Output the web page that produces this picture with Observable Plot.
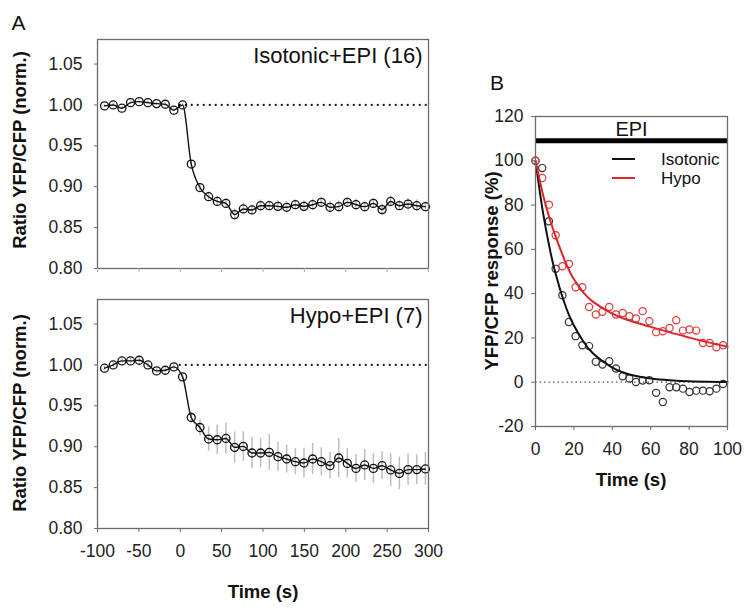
<!DOCTYPE html>
<html><head><meta charset="utf-8">
<script src="https://cdn.jsdelivr.net/npm/d3@7"></script>
<script src="https://cdn.jsdelivr.net/npm/@observablehq/plot@0.6"></script>
<style>
html,body{margin:0;padding:0;background:#fff;}
#root{position:relative;width:751px;height:612px;overflow:hidden;font-family:"Liberation Sans",Arial,sans-serif;color:#111;}
.box{position:absolute;}
.t{position:absolute;white-space:nowrap;line-height:1;transform:translate(-50%,-50%);}
.rot{transform:translate(-50%,-50%) rotate(-90deg);}
.b{font-weight:bold;}
.sw{position:absolute;height:2px;}
</style></head><body><div id="root"></div>
<script>
// ---------- Panel A data ----------
const timeA = [-91.5, -81, -70.5, -60.1, -49.6, -39.1, -28.6, -18.1, -7.7, 2.8,
  13.3, 23.8, 34.3, 44.7, 55.2, 65.7, 76.2, 86.7, 97.1, 107.6, 118.1, 128.6, 139.1, 149.5,
  160, 170.5, 181, 191.5, 201.9, 212.4, 222.9, 233.4, 243.9, 254.3, 264.8, 275.3, 285.8, 296.3];
const isoRatio = [0.9988, 1.000, 0.996, 1.0028, 1.004, 1.0028, 1.0016, 1.0008, 0.9936, 1.000,
  0.9277, 0.899, 0.8878, 0.882, 0.8796, 0.8659, 0.8728, 0.8716, 0.8768, 0.8768, 0.876, 0.8748,
  0.878, 0.876, 0.878, 0.8809, 0.8748, 0.8756, 0.8809, 0.878, 0.8756, 0.8796, 0.872, 0.882,
  0.8768, 0.8788, 0.8768, 0.8756];
const isoErr = [0.002, 0.002, 0.002, 0.002, 0.002, 0.002, 0.002, 0.002, 0.002, 0.002,
  0.004, 0.005, 0.006, 0.006, 0.006, 0.007, 0.007, 0.006, 0.007, 0.006, 0.007, 0.007,
  0.006, 0.007, 0.007, 0.006, 0.007, 0.007, 0.006, 0.007, 0.007, 0.006, 0.007, 0.007,
  0.006, 0.007, 0.007, 0.006];
const hypoRatio = [0.996, 1.000, 1.0049, 1.0049, 1.0057, 1.000, 0.9927, 0.9935, 0.9976, 0.9854,
  0.9357, 0.9235, 0.9094, 0.9085, 0.9101, 0.8992, 0.9004, 0.8923, 0.8923, 0.8931, 0.8878,
  0.885, 0.8817, 0.8801, 0.885, 0.8817, 0.8768, 0.8862, 0.8796, 0.8735, 0.8777, 0.8735,
  0.8768, 0.8716, 0.8674, 0.872, 0.872, 0.8728];
const hypoErr = [0.003, 0.003, 0.003, 0.003, 0.003, 0.003, 0.003, 0.003, 0.003, 0.003,
  0.006, 0.010, 0.015, 0.018, 0.019, 0.019, 0.018, 0.019, 0.018, 0.022, 0.018, 0.017,
  0.016, 0.018, 0.019, 0.017, 0.016, 0.024, 0.018, 0.017, 0.019, 0.018, 0.017, 0.020,
  0.020, 0.019, 0.018, 0.020];
const yTicksA = [0.80, 0.85, 0.90, 0.95, 1.00, 1.05];
const xTicksA = [-100, -50, 0, 50, 100, 150, 200, 250, 300];
const baselineA = 1.0;

// ---------- Panel B data ----------
const timeB = [0, 3.5, 7, 10.5, 14, 17.4, 20.9, 24.4, 27.9, 31.4, 34.9, 38.4, 41.9, 45.4,
  48.9, 52.3, 55.8, 59.3, 62.8, 66.3, 69.8, 73.3, 76.8, 80.2, 83.7, 87.2, 90.7, 94.2, 97.7];
const isoResp = [100, 96.7, 72.7, 51.2, 39.3, 27.2, 20.8, 16.7, 16.3, 9.2, 8.0, 9.5, 6.2, 2.7,
  1.7, 0.1, 0.8, 0.9, -4.8, -8.9, -2.3, -2.3, -2.9, -4.4, -3.8, -3.8, -4.1, -2.9, -0.8];
const hypoResp = [100, 92.2, 80.2, 66.4, 52.4, 53.4, 42.9, 42.9, 34.0, 30.6, 31.8, 34.0, 30.6,
  31.3, 29.8, 28.8, 32.1, 27.5, 22.6, 23.0, 24.5, 28.0, 23.3, 23.8, 23.3, 17.7, 17.7, 15.8, 16.7];
const fitTime = [0, 2.5, 5, 7.5, 10, 15, 20, 25, 30, 40, 50, 60, 70, 80, 90, 100];
const isoFit = [100, 84.4, 71.2, 60.0, 50.6, 36.0, 25.6, 18.3, 13.0, 6.6, 3.3, 1.7, 0.9, 0.4, 0.2, 0.1];
const hypoFit = [100, 90, 81, 73.5, 67, 55.5, 46.5, 40.5, 36.3, 31, 27.5, 25, 22.5, 20.2, 18, 16];
const yTicksB = [-20, 0, 20, 40, 60, 80, 100, 120];
const xTicksB = [0, 20, 40, 60, 80, 100];
const epiPeriod = [0, 100];
const epiLevel = 109;
const seriesB = ["Isotonic", "Hypo"];
const colorsB = ["#111111", "#d8262b"];
const dotColorsB = ["#333333", "#e0393c"];

const FONT = '"Liberation Sans", Arial, sans-serif';
const FRAME = "#6b6b6b";
const hy = d => String(d); // plain hyphen-minus like the original
const root = document.getElementById("root");

function place(node, left, top) {
  const d = document.createElement("div");
  d.className = "box";
  d.style.left = left + "px"; d.style.top = top + "px";
  d.appendChild(node);
  root.appendChild(d);
}
function label(text, cx, cy, size, cls) {
  const d = document.createElement("div");
  d.className = "t " + (cls || "");
  d.style.left = cx + "px"; d.style.top = cy + "px";
  d.style.fontSize = size + "px";
  d.textContent = text;
  root.appendChild(d);
}

function panelA(values, errs, title, height, mt, mb, showX) {
  const data = timeA.map((t, i) => ({t, v: values[i], e: errs[i]}));
  return Plot.plot({
    width: 440, height, marginLeft: 97, marginRight: 12, marginTop: mt, marginBottom: mb,
    style: {fontFamily: FONT, fontSize: "17.5px", color: "#222", background: "transparent", overflow: "visible"},
    x: {domain: [-100, 300]},
    y: {domain: [0.8, 1.08]},
    marks: [
      Plot.ruleX(data, {x: "t", y1: d => d.v - d.e, y2: d => d.v + d.e, stroke: "#bdbdbd", strokeWidth: 1.5}),
      Plot.ruleY([baselineA], {x1: 0, x2: 300, stroke: "#111", strokeWidth: 2.2, strokeDasharray: "0,6", strokeLinecap: "round"}),
      Plot.line(data, {x: "t", y: "v", stroke: "#111", strokeWidth: 1.4, curve: "monotone-x"}),
      Plot.dot(data, {x: "t", y: "v", r: 4, stroke: "#111", strokeWidth: 1.3, fill: "none"}),
      Plot.frame({stroke: FRAME, strokeWidth: 1.3}),
      Plot.axisY({ticks: yTicksA, tickFormat: d => d.toFixed(2), tickSize: 3, tickPadding: 12, label: null, stroke: FRAME, fill: "#222"}),
      showX
        ? Plot.axisX({ticks: xTicksA, tickFormat: hy, tickSize: 4, tickPadding: 12, label: null, stroke: FRAME, fill: "#222"})
        : Plot.axisX({ticks: xTicksA, tickSize: 4, tickFormat: () => "", label: null, stroke: "#aaa"}),
      Plot.text([title], {text: d => d, frameAnchor: "top-right", dx: -6, dy: 16, fontSize: 22, fill: "#111", lineAnchor: "middle", textAnchor: "end"})
    ]
  });
}

place(panelA(isoRatio, isoErr, "Isotonic+EPI (16)", 280, 39, 12, false), 0, 0);
place(panelA(hypoRatio, hypoErr, "Hypo+EPI (7)", 290, 19, 42, true), 0, 280);

// Panel B
const ptsB = [];
timeB.forEach((t, i) => { ptsB.push({t, v: isoResp[i], s: seriesB[0]}); ptsB.push({t, v: hypoResp[i], s: seriesB[1]}); });
const fitB = [];
seriesB.forEach((s, k) => fitTime.forEach((t, i) => fitB.push({t, v: (k ? hypoFit : isoFit)[i], s})));

const plotB = Plot.plot({
  width: 270, height: 370, marginLeft: 65, marginRight: 13, marginTop: 16, marginBottom: 44,
  style: {fontFamily: FONT, fontSize: "17.5px", color: "#222", background: "transparent", overflow: "visible"},
  x: {domain: [0, 100]},
  y: {domain: [-20, 120]},
  color: {domain: seriesB, range: colorsB},
  marks: [
    Plot.ruleY([0], {stroke: "#555", strokeWidth: 1.3, strokeDasharray: "1.5,3"}),
    Plot.ruleY([epiLevel], {x1: epiPeriod[0], x2: epiPeriod[1], stroke: "#000", strokeWidth: 5}),
    Plot.text(["EPI"], {text: d => d, frameAnchor: "top", dy: 13, fontSize: 20, fill: "#111", lineAnchor: "middle"}),
    Plot.dot(ptsB, {x: "t", y: "v", r: 3.6, stroke: d => dotColorsB[seriesB.indexOf(d.s)], strokeWidth: 1.2, fill: "none"}),
    Plot.line(fitB, {x: "t", y: "v", z: "s", stroke: "s", strokeWidth: 2, curve: "natural"}),
    Plot.frame({stroke: FRAME, strokeWidth: 1.3}),
    Plot.axisY({ticks: yTicksB, tickFormat: hy, tickSize: 4, tickPadding: 8, label: null, stroke: FRAME, fill: "#222"}),
    Plot.axisX({ticks: xTicksB, tickFormat: hy, tickSize: 4, tickPadding: 12, label: null, stroke: FRAME, fill: "#222"})
  ]
});
place(plotB, 470, 100);

// Legend for B
seriesB.forEach((s, i) => {
  const sw = document.createElement("div");
  sw.className = "sw";
  sw.style.left = "612px"; sw.style.width = "23px";
  sw.style.top = (158 + i * 19) + "px";
  sw.style.background = colorsB[i];
  root.appendChild(sw);
  const d = document.createElement("div");
  d.className = "t";
  d.style.transform = "translate(0,-50%)";
  d.style.left = "661px"; d.style.top = (159 + i * 19) + "px";
  d.style.fontSize = "17px";
  d.textContent = s;
  root.appendChild(d);
});

// Titles and labels
label("A", 18.5, 22, 21);
label("B", 497, 82, 21);
label("Ratio YFP/CFP (norm.)", 20, 150, 18.5, "rot b");
label("Ratio YFP/CFP (norm.)", 20, 413, 18.5, "rot b");
label("Time (s)", 263, 592, 18.5, "b");
label("YFP/CFP response (%)", 492, 271, 18.5, "rot b");
label("Time (s)", 631, 480, 18.5, "b");
</script></body></html>
